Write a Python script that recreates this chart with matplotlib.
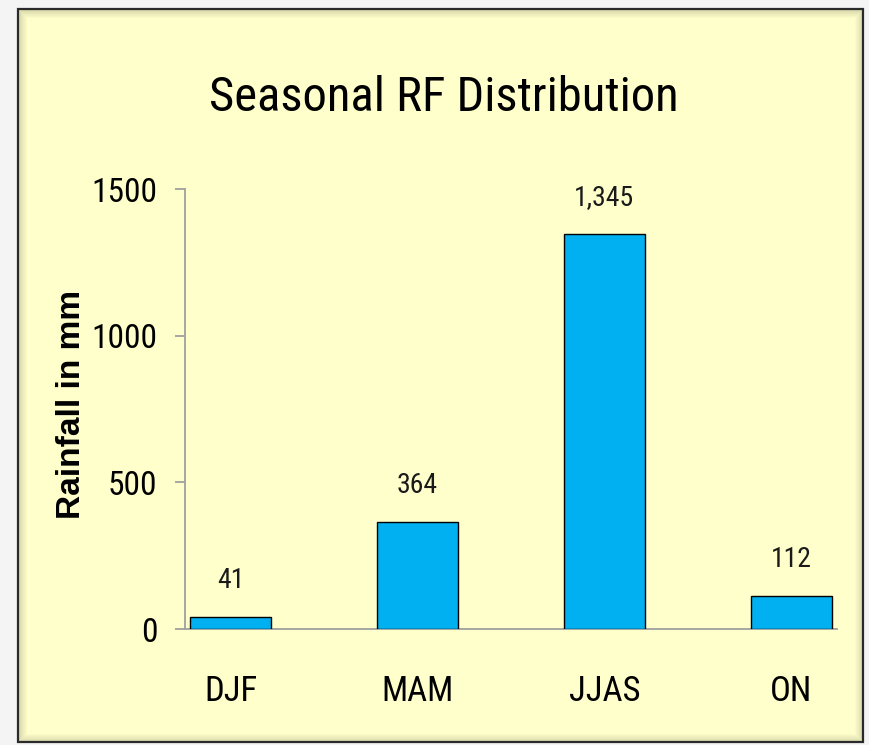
import matplotlib
matplotlib.use("Agg")
import matplotlib.pyplot as plt
from matplotlib.patches import Rectangle

NARROW = ['Roboto Condensed', 'Liberation Sans Narrow', 'Roboto', 'DejaVu Sans']
plt.rcParams['font.family'] = NARROW

# ---- data ----
categories = ["DJF", "MAM", "JJAS", "ON"]
rainfall = [41, 364, 1345, 112]
yticks = [0, 500, 1000, 1500]
title = "Seasonal RF Distribution"
ylabel = "Rainfall in mm"

W, H = 869, 745
fig = plt.figure(figsize=(W / 100, H / 100), dpi=100)
fig.patch.set_facecolor('#F4F4F4')

def fx(px):
    return px / W

def fy(py):
    return 1 - py / H

# panel
x0, y0, x1, y1 = 18, 9, 863, 742
fig.add_artist(Rectangle((fx(x0), fy(y1)), fx(x1) - fx(x0), fy(y0) - fy(y1),
                         transform=fig.transFigure, facecolor='#FFFFCC',
                         edgecolor='none', zorder=0))
for i in range(1, 9):
    fig.add_artist(Rectangle((fx(x0 + i), fy(y1 - i)), fx(x1 - i) - fx(x0 + i),
                             fy(y0 + i) - fy(y1 - i), transform=fig.transFigure,
                             facecolor='none', edgecolor='black',
                             alpha=0.16 * (1 - i / 9), linewidth=0.75, zorder=0.5))
fig.add_artist(Rectangle((fx(x0), fy(y1)), fx(x1) - fx(x0), fy(y0) - fy(y1),
                         transform=fig.transFigure, facecolor='none',
                         edgecolor='#2a2a2a', linewidth=1.6, zorder=1))

# axes
ax = fig.add_axes([fx(185), fy(629), fx(837) - fx(185), fy(189) - fy(629)])
ax.set_facecolor('none')
ax.set_zorder(2)
x = list(range(len(categories)))
bars = ax.bar(x, rainfall, width=0.434, color='#00B0F0', edgecolor='black',
              linewidth=1.0, zorder=3)
ax.set_xlim(-0.246, len(categories) - 1 + 0.246)
ax.set_ylim(0, 1500)
ax.set_yticks(yticks)
ax.set_yticklabels([str(t) for t in yticks])
ax.set_xticks(x)
ax.set_xticklabels(categories)
for s in ['top', 'right']:
    ax.spines[s].set_visible(False)
for s in ['left', 'bottom']:
    ax.spines[s].set_color('#A0A0A0')
    ax.spines[s].set_linewidth(1.3)
ax.tick_params(axis='y', length=7, width=1.3, color='#A0A0A0', pad=13,
               labelsize=24, labelcolor='black')
ax.tick_params(axis='x', length=0, pad=33, labelsize=25, labelcolor='black')

for xi, v in zip(x, rainfall):
    ax.annotate(f"{v:,}", xy=(xi, v), xytext=(0, 21), textcoords='offset points',
                ha='center', va='baseline', fontsize=20, color='#1a1a1a')

fig.text(fx(443.5), fy(111), title, ha='center', va='baseline', fontsize=35,
         color='black')
fig.text(fx(72), fy(404), ylabel, rotation=90, ha='center', va='center',
         fontsize=24, fontweight='bold', family=['Liberation Sans', 'DejaVu Sans'])

fig.savefig('out.png', dpi=100, facecolor=fig.get_facecolor())
